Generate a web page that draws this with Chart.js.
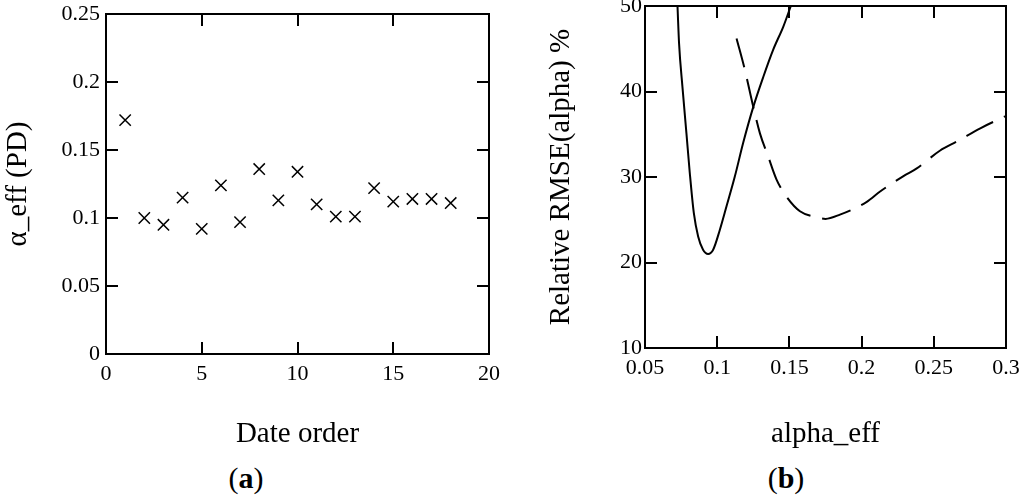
<!DOCTYPE html>
<html>
<head>
<meta charset="utf-8">
<script src="https://cdn.jsdelivr.net/npm/chart.js@4"></script>
<style>
    body { margin: 0; background: #fff; width: 1024px; height: 495px; position: relative; overflow: hidden; }
    canvas { position: absolute; top: 0; }
    .panel { position: absolute; top: 478px; transform: translate(-50%, -50%); font-family: "Liberation Serif", serif; font-size: 30px; color: #000; }
</style>
</head>
<body>
<canvas id="left" width="520" height="460" style="left:0px"></canvas>
<canvas id="right" width="484" height="460" style="left:540px"></canvas>
<div class="panel" style="left:246px">(<b>a</b>)</div>
<div class="panel" style="left:786px">(<b>b</b>)</div>
<script>
// (a) alpha_eff per date
const dateOrder = [1, 2, 3, 4, 5, 6, 7, 8, 9, 10, 11, 12, 13, 14, 15, 16, 17, 18];
const alphaEffPD = [0.172, 0.100, 0.095, 0.115, 0.092, 0.124, 0.097, 0.136, 0.113, 0.134, 0.110, 0.101, 0.101, 0.122, 0.112, 0.114, 0.114, 0.111];

// (b) relative RMSE curves
const solidAlpha = [0.0725, 0.0736, 0.0759, 0.0787, 0.0810, 0.0838, 0.0868, 0.0902, 0.0937, 0.0972, 0.1018, 0.1065, 0.1122, 0.1180, 0.1250, 0.1319, 0.1388, 0.1458, 0.1510];
const solidRmse = [50, 45.6, 40.6, 35.1, 30.5, 25.8, 23.05, 21.5, 21.0, 21.5, 23.8, 26.6, 30.05, 34.0, 38.2, 41.7, 44.9, 47.6, 50];
const dashedAlpha = [0.1134, 0.1192, 0.1250, 0.1296, 0.1353, 0.1411, 0.1480, 0.1573, 0.1689, 0.1750, 0.1850, 0.2036, 0.2128, 0.2290, 0.2382, 0.2544, 0.2660, 0.2822, 0.2995];
const dashedRmse = [46.2, 42.5, 38.2, 35.1, 32.4, 29.7, 27.7, 26.0, 25.3, 25.1, 25.6, 27.1, 28.3, 30.1, 31.0, 33.1, 34.15, 35.7, 37.1];

const leftXTicks = [0, 20, 5];
const leftYTicks = [0, 0.25, 0.05];
const rightXTicks = [0.05, 0.3, 0.05];
const rightYTicks = [10, 50, 10];

const serif = "'Liberation Serif', 'Times New Roman', serif";
const tickFont = {family: serif, size: 22};
const titleFont = {family: serif, size: 29};

const toPoints = (xs, ys) => xs.map((x, i) => ({x: x, y: ys[i]}));

// axis with inward tick marks; size forces the chart area into place
const axis = (position, range, size, labels, labelPad, title, titlePad) => ({
    type: "linear",
    position: position,
    min: range[0],
    max: range[1],
    border: {display: true, color: "#000", width: 2},
    grid: {drawOnChartArea: false, drawTicks: true, tickLength: -12, color: "#000", lineWidth: 2},
    ticks: {
        display: labels,
        stepSize: range[2],
        padding: labelPad + 12,
        color: "#000",
        font: tickFont,
        maxRotation: 0,
        autoSkip: false,
        callback: (v) => String(+v.toFixed(2))
    },
    title: {display: !!title, text: title || "", color: "#000", font: titleFont, padding: titlePad || 0},
    afterFit: (scale) => {
        if (scale.isHorizontal()) {
            scale.height = size;
        } else {
            scale.width = size;
        }
        scale.paddingLeft = scale.paddingRight = scale.paddingTop = scale.paddingBottom = 0;
    }
});

const baseOptions = (padding, scales) => ({
    responsive: false,
    animation: false,
    layout: {padding: padding},
    plugins: {legend: {display: false}, tooltip: {enabled: false}},
    scales: scales
});

const leftChart = new Chart(document.getElementById("left").getContext("2d"), {
    "type": "scatter",
    "data": {
        "datasets": [{
            "data": toPoints(dateOrder, alphaEffPD),
            "pointStyle": "crossRot",
            "pointRadius": 8,
            "borderColor": "#000",
            "backgroundColor": "#000",
            "borderWidth": 1.5
        }]
    },
    "options": baseOptions({left: 0, right: 31, top: 14, bottom: 0}, {
        x: axis("bottom", leftXTicks, 106, true, 7, "Date order", {top: 0, bottom: 8}),
        y: axis("left", leftYTicks, 106, true, 6, "\u03b1_eff (PD)", {top: 1, bottom: 0}),
        x2: axis("top", leftXTicks, 0, false, 0),
        y2: axis("right", leftYTicks, 0, false, 0)
    })
});

const rightChart = new Chart(document.getElementById("right").getContext("2d"), {
    "type": "line",
    "data": {
        "datasets": [
            {
                "data": toPoints(solidAlpha, solidRmse),
                "borderColor": "#000",
                "borderWidth": 2,
                "pointRadius": 0,
                "cubicInterpolationMode": "monotone"
            },
            {
                "data": toPoints(dashedAlpha, dashedRmse),
                "borderColor": "#000",
                "borderWidth": 2,
                "borderDash": [30, 12],
                "pointRadius": 0,
                "cubicInterpolationMode": "monotone"
            }
        ]
    },
    "options": baseOptions({left: 0, right: 18, top: 6, bottom: 0}, {
        x: axis("bottom", rightXTicks, 112, true, 7, "alpha_eff", {top: 0, bottom: 8}),
        y: axis("left", rightYTicks, 105, true, 3, "Relative RMSE(alpha) %", {top: 4, bottom: 0}),
        x2: axis("top", rightXTicks, 0, false, 0),
        y2: axis("right", rightYTicks, 0, false, 0)
    })
});
</script>
</body>
</html>
